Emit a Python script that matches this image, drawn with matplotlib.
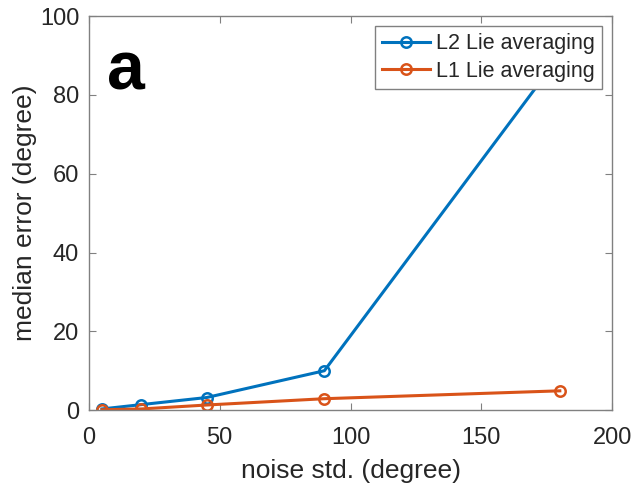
import numpy as np
import matplotlib
matplotlib.use("Agg")
import matplotlib.pyplot as plt

# noise levels and median errors for the two averaging schemes
noise_std = [5, 20, 45, 90, 180]
l2_error = [0.3, 1.4, 3.2, 10.0, 90.0]
l1_error = [0.1, 0.3, 1.3, 2.9, 4.9]

plt.rcParams['font.family'] = ['Liberation Sans', 'DejaVu Sans']

fig = plt.figure(figsize=(6.35, 4.9), dpi=100)
ax = fig.add_axes([0.140, 0.163, 0.824, 0.804])

ax.plot(noise_std, l2_error, color='#0072BD', lw=2.2, marker='o', ms=7.5,
        mfc='none', mew=1.8, label='L2 Lie averaging')
ax.plot(noise_std, l1_error, color='#D95319', lw=2.2, marker='o', ms=7.5,
        mfc='none', mew=1.8, label='L1 Lie averaging')

ax.set_xlim(0, 200)
ax.set_ylim(0, 100)
ax.set_xticks([0, 50, 100, 150, 200])
ax.set_yticks([0, 20, 40, 60, 80, 100])
ax.tick_params(direction='in', length=5, color='#808080', labelcolor='#262626',
               labelsize=17, top=True, right=True)
ax.tick_params(axis='x', pad=12)
ax.tick_params(axis='y', pad=7)
for s in ax.spines.values():
    s.set_color('#808080')
    s.set_linewidth(1.0)

ax.set_xlabel('noise std. (degree)', fontsize=19, color='#262626', labelpad=7)
ax.set_ylabel('median error (degree)', fontsize=19, color='#262626', labelpad=2)

leg = ax.legend(loc='upper right', fontsize=15.5, frameon=True, fancybox=False,
                framealpha=1, edgecolor='#808080', borderpad=0.35,
                handlelength=2.2, handletextpad=0.3, labelspacing=0.3,
                borderaxespad=0.45)
leg.get_frame().set_linewidth(1.0)
for t in leg.get_texts():
    t.set_color('#262626')

ax.text(0.035, 0.94, 'a', transform=ax.transAxes, fontsize=49,
        fontweight='bold', color='black', va='top', ha='left')

fig.savefig('out.png', dpi=100)
